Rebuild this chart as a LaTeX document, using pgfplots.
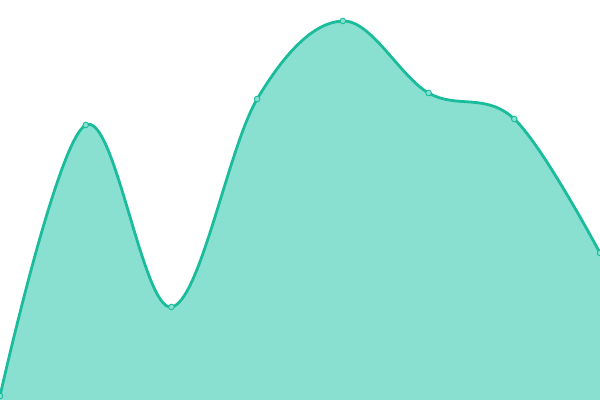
\documentclass[border=0pt]{standalone}
\usepackage{pgfplots}
\pgfplotsset{compat=1.18}
\definecolor{linec}{HTML}{1ABC9C}
\definecolor{fillc}{HTML}{8AE0D0}
\begin{document}
\begin{tikzpicture}
\begin{axis}[
  width=600bp, height=400bp, scale only axis,
  hide axis, xmin=0, xmax=7, ymin=0, ymax=400,
  clip=true,
]
\addplot[draw=none, fill=fillc, smooth, tension=0.6] coordinates {
(0,4) (1,275) (2,93) (3,301) (4,379) (5,307) (6,281) (7,147)
} \closedcycle;
\addplot[linec, line width=2.8bp, smooth, tension=0.6,
  mark=*, mark size=2.8bp, mark options={fill=fillc, draw=linec, line width=0.9bp}] coordinates {
(0,4) (1,275) (2,93) (3,301) (4,379) (5,307) (6,281) (7,147)
};
\end{axis}
\pgfresetboundingbox
\path[use as bounding box] (0,0) rectangle (600bp,400bp);
\end{tikzpicture}
\end{document}
